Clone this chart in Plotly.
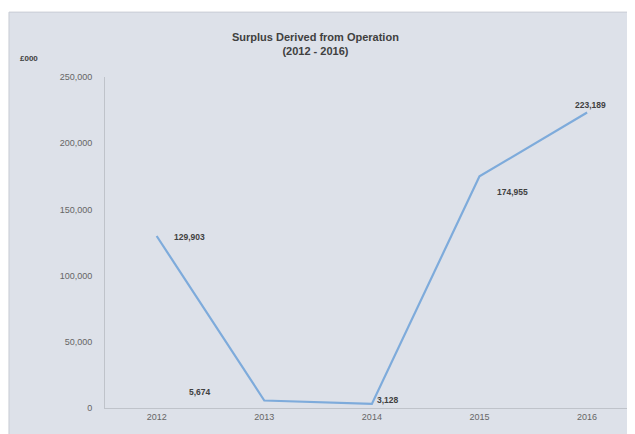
import plotly.graph_objects as go

years = ["2012", "2013", "2014", "2015", "2016"]
surplus = [129903, 5674, 3128, 174955, 223189]
labels = ["129,903", "5,674", "3,128", "174,955", "223,189"]
y_ticks = [0, 50000, 100000, 150000, 200000, 250000]
y_tick_text = ["0", "50,000", "100,000", "150,000", "200,000", "250,000"]

label_offsets = [(33, -1), (-64, 8), (16, 4), (33, -16), (3, 8)]

fig = go.Figure()
fig.add_trace(go.Scatter(
    x=list(range(len(years))), y=surplus, mode="lines",
    line=dict(color="#7eabdb", width=2.2), hoverinfo="skip", showlegend=False))

for i, (v, t) in enumerate(zip(surplus, labels)):
    dx, dy = label_offsets[i]
    fig.add_annotation(x=i, y=v, text="<b>%s</b>" % t, showarrow=False,
                       xshift=dx, yshift=dy,
                       font=dict(family="Liberation Sans", size=8.5, color="#404040"))

fig.add_annotation(xref="paper", yref="paper", x=0.425, y=1, yshift=48, xshift=-12,
                   text="<b>Surplus Derived from Operation<br>(2012 - 2016)</b>",
                   showarrow=False, font=dict(family="Liberation Sans", size=11, color="#404040"))
fig.add_annotation(xref="paper", yref="paper", x=-0.163, y=1, yshift=25, xshift=-2, xanchor="left",
                   text="<b>£000</b>", showarrow=False,
                   font=dict(family="Liberation Sans", size=8, color="#404040"))

# panel background
fig.add_shape(type="rect", xref="paper", yref="paper", layer="below",
              x0=-0.1836, x1=1.0076, y0=-0.2, y1=1.196,
              fillcolor="#dde1e9", line=dict(color="#c8ccd4", width=1))

fig.update_layout(
    width=627, height=426,
    margin=dict(l=97, r=7, t=69, b=26),
    paper_bgcolor="white", plot_bgcolor="rgba(0,0,0,0)",
    font=dict(family="Liberation Sans", color="#666666", size=9),
    xaxis=dict(tickmode="array", tickvals=list(range(len(years))), ticktext=years,
               range=[-0.48, 4.38], showgrid=False, zeroline=False,
               showline=True, linecolor="#bfc3ca", linewidth=1,
               ticks="", tickfont=dict(size=9, color="#666666")),
    yaxis=dict(tickmode="array", tickvals=y_ticks, ticktext=y_tick_text,
               range=[0, 250000], showgrid=False, zeroline=False,
               showline=True, linecolor="#bfc3ca", linewidth=1,
               ticks="", ticklabelstandoff=10,
               tickfont=dict(size=9, color="#666666")),
)

fig.write_html("out.html")
